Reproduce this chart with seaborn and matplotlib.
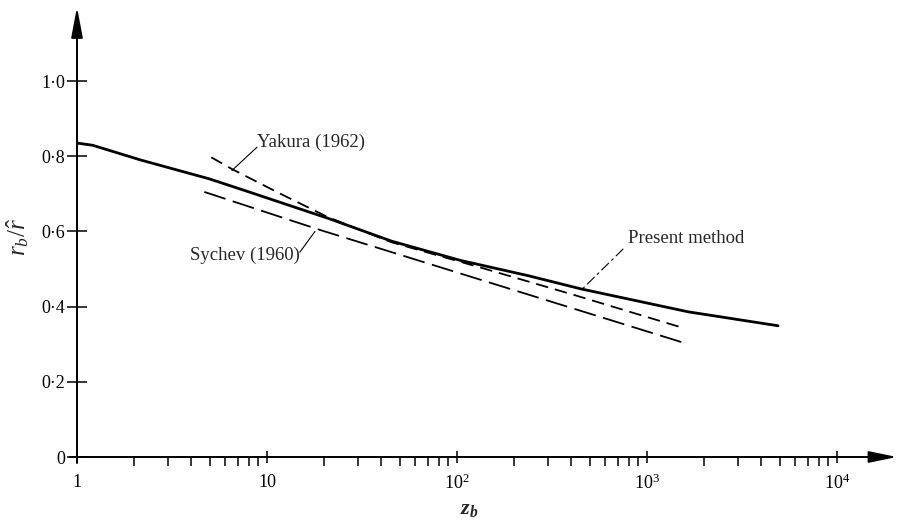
import numpy as np
import pandas as pd
import matplotlib
matplotlib.use("Agg")
import matplotlib.pyplot as plt
import seaborn as sns

# ---- data ----
present_z = [1.0, 1.21, 2.16, 4.95, 7.71, 20.9, 45.3, 104, 238, 450, 1652, 4898]
present_r = [0.835, 0.829, 0.790, 0.740, 0.708, 0.635, 0.574, 0.523, 0.482, 0.447, 0.386, 0.349]

yakura_z = [5.09, 6.53, 11.35, 20.9, 45.3, 137, 413, 1578]
yakura_r = [0.797, 0.766, 0.704, 0.638, 0.571, 0.502, 0.431, 0.342]

sychev_z = [4.68, 18.7, 1578]
sychev_r = [0.705, 0.605, 0.303]

y_ticks = [0, 0.2, 0.4, 0.6, 0.8, 1.0]
y_ticklabels = ["0", "0·2", "0·4", "0·6", "0·8", "1·0"]
x_ticks = [1, 10, 100, 1000, 10000]
x_ticklabels = ["1", "10", r"$10^{2}$", r"$10^{3}$", r"$10^{4}$"]

# ---- style ----
sns.set_theme(style="white")
plt.rcParams["font.family"] = ["Liberation Serif", "DejaVu Serif"]
plt.rcParams["mathtext.fontset"] = "custom"
plt.rcParams["mathtext.rm"] = "Liberation Serif"
plt.rcParams["mathtext.it"] = "Liberation Serif:italic"
plt.rcParams["mathtext.bf"] = "Liberation Serif:bold:italic"
plt.rcParams["lines.scale_dashes"] = False

fig = plt.figure(figsize=(8.98, 5.25), dpi=100)
ax = fig.add_axes([77 / 898, 68 / 525, 820 / 898, 450 / 525])
ax.set_xscale("log")
xmax = 10 ** (820 / 190)
ymax = 450 / 376
ax.set_xlim(1, xmax)
ax.set_ylim(0, ymax)

df_p = pd.DataFrame({"z": present_z, "r": present_r})
df_y = pd.DataFrame({"z": yakura_z, "r": yakura_r})
df_s = pd.DataFrame({"z": sychev_z, "r": sychev_r})

sns.lineplot(data=df_p, x="z", y="r", ax=ax, color="black", lw=2.0, estimator=None, sort=True)
ax.lines[-1].set_solid_joinstyle("round")
sns.lineplot(data=df_y, x="z", y="r", ax=ax, color="black", lw=1.3, estimator=None, sort=True)
ax.lines[-1].set_dashes([9, 5])
sns.lineplot(data=df_s, x="z", y="r", ax=ax, color="black", lw=1.3, estimator=None, sort=True)
ax.lines[-1].set_dashes([16, 5.5])

for s in ax.spines.values():
    s.set_visible(False)

# axes as arrows
ax.annotate("", xy=(xmax, 0), xytext=(0.918, 0), xycoords="data",
            arrowprops=dict(arrowstyle="-|>,head_length=1.7,head_width=0.35",
                            color="black", lw=1.4, shrinkA=0, shrinkB=0, mutation_scale=10),
            annotation_clip=False)
ax.annotate("", xy=(1, ymax), xytext=(1, -0.016), xycoords="data",
            arrowprops=dict(arrowstyle="-|>,head_length=1.85,head_width=0.35",
                            color="black", lw=1.4, shrinkA=0, shrinkB=0, mutation_scale=10),
            annotation_clip=False)

# ticks
ax.set_yticks(y_ticks)
ax.set_yticklabels(y_ticklabels)
ax.set_xticks(x_ticks)
ax.set_xticklabels(x_ticklabels)
minor = [k * 10 ** d for d in range(4) for k in range(2, 10)]
ax.set_xticks(minor, minor=True)
ax.set_xticklabels([], minor=True)
ax.tick_params(axis="y", which="major", direction="inout", length=15, width=1.1,
               pad=1, labelsize=13, colors="black", left=True)
ax.tick_params(axis="x", which="major", direction="inout", length=8, width=1.1,
               pad=8, labelsize=13, colors="black", bottom=True)
ax.tick_params(axis="x", which="minor", direction="out", length=6.5, width=1.1,
               colors="black", bottom=True)
ax.grid(False)
ax.set_xlabel("")
ax.set_ylabel("")

# axis labels
ax.text(0.479, -0.116, r"$\mathbf{z_b}$", transform=ax.transAxes, ha="center", va="center",
        fontsize=16)
ax.text(-0.072, 0.489, r"$r_b/\hat{r}$", transform=ax.transAxes, ha="center", va="center",
        rotation=90, fontsize=18)

# annotations
ax.text(8.86, 0.838, "Yakura (1962)", ha="left", va="center", fontsize=13.5)
ax.annotate("", xy=(6.54, 0.762), xytext=(8.86, 0.824),
            arrowprops=dict(arrowstyle="-", color="black", lw=0.8, shrinkA=0, shrinkB=0))
ax.text(14.9, 0.537, "Sychev (1960)", ha="right", va="center", fontsize=13.5)
ax.annotate("", xy=(17.9, 0.600), xytext=(14.9, 0.545),
            arrowprops=dict(arrowstyle="-", color="black", lw=0.8, shrinkA=0, shrinkB=0))
ax.text(794, 0.582, "Present method", ha="left", va="center", fontsize=13.5)
ax.annotate("", xy=(455, 0.446), xytext=(748, 0.553),
            arrowprops=dict(arrowstyle="-", color="black", lw=0.8, shrinkA=0, shrinkB=0,
                            linestyle=(0, (7, 3, 1.5, 3))))

fig.savefig("out.png", dpi=100)
